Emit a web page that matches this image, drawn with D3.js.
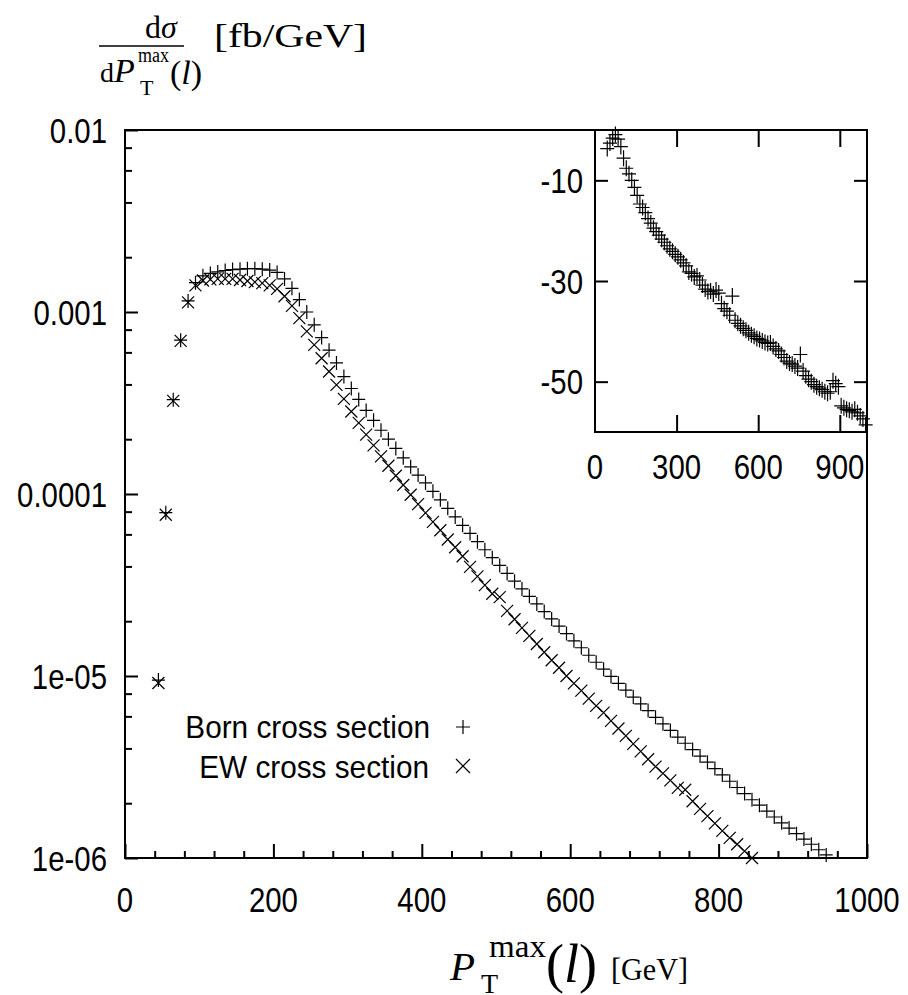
<!DOCTYPE html>
<html><head><meta charset="utf-8">
<script src="https://cdn.jsdelivr.net/npm/d3@7"></script>
<style>
body{margin:0;background:#fff;}
svg{display:block;}
</style></head>
<body>
<svg id="chart" width="908" height="995"></svg>
<script>
// ---------- DATA ----------
const ptBins = [45,55,65,75,85,95,105,115,125,135,145,155,165,175,185,195,205,215,225,235,
  245,255,265,275,285,295,305,315,325,335,345,355,365,375,385,395,405,415,425,435,
  445,455,465,475,485,495,505,515,525,535,545,555,565,575,585,595,605,615,625,635,
  645,655,665,675,685,695,705,715,725,735,745,755,765,775,785,795,805,815,825,835,
  845,855,865,875,885,895,905,915,925,935,945,955,965,975,985,995];

const bornXsec = [9.5e-6,7.9e-5,3.3e-4,7.0e-4,1.15e-3,1.45e-3,1.58e-3,1.63e-3,1.66e-3,1.69e-3,
  1.71e-3,1.72e-3,1.73e-3,1.73e-3,1.72e-3,1.70e-3,1.65e-3,1.52e-3,1.35e-3,1.17e-3,
  1.00e-3,8.50e-4,7.24e-4,6.17e-4,5.25e-4,4.42e-4,3.80e-4,3.31e-4,2.88e-4,2.54e-4,
  2.24e-4,2.00e-4,1.78e-4,1.58e-4,1.41e-4,1.27e-4,1.15e-4,1.035e-4,9.29e-5,8.34e-5,
  7.48e-5,6.73e-5,6.07e-5,5.47e-5,4.94e-5,4.47e-5,4.05e-5,3.66e-5,3.32e-5,3.01e-5,
  2.74e-5,2.49e-5,2.26e-5,2.06e-5,1.88e-5,1.71e-5,1.56e-5,1.43e-5,1.30e-5,1.19e-5,
  1.09e-5,9.95e-6,9.12e-6,8.36e-6,7.66e-6,7.03e-6,6.46e-6,5.93e-6,5.46e-6,5.02e-6,
  4.62e-6,4.27e-6,3.94e-6,3.63e-6,3.36e-6,3.10e-6,2.86e-6,2.64e-6,2.44e-6,2.26e-6,
  2.09e-6,1.95e-6,1.81e-6,1.68e-6,1.56e-6,1.46e-6,1.36e-6,1.27e-6,1.19e-6,1.11e-6,1.04e-6];

const ewXsec = [9.15e-6,7.69e-5,3.25e-4,6.94e-4,1.13e-3,1.40e-3,1.49e-3,1.51e-3,1.52e-3,1.52e-3,
  1.52e-3,1.50e-3,1.48e-3,1.46e-3,1.44e-3,1.40e-3,1.34e-3,1.22e-3,1.08e-3,9.25e-4,
  7.83e-4,6.60e-4,5.57e-4,4.71e-4,3.98e-4,3.33e-4,2.84e-4,2.46e-4,2.12e-4,1.85e-4,
  1.61e-4,1.43e-4,1.26e-4,1.12e-4,9.90e-5,8.79e-5,7.87e-5,7.03e-5,6.32e-5,5.62e-5,
  5.10e-5,4.55e-5,3.98e-5,3.53e-5,3.16e-5,2.83e-5,2.71e-5,2.28e-5,2.05e-5,1.84e-5,
  1.66e-5,1.50e-5,1.35e-5,1.22e-5,1.11e-5,1.00e-5,9.11e-6,8.31e-6,7.51e-6,6.85e-6,
  6.29e-6,5.67e-6,5.15e-6,4.69e-6,4.24e-6,3.85e-6,3.49e-6,3.18e-6,2.92e-6,2.67e-6,
  2.43e-6,2.37e-6,2.05e-6,1.86e-6,1.70e-6,1.55e-6,1.41e-6,1.29e-6,1.19e-6,1.09e-6,1.00e-6];

const relCorr = [-3.7,-2.6,-1.6,-0.9,-1.8,-3.3,-5.6,-7.6,-8.7,-10.0,-11.4,-13.0,-14.7,-15.4,-16.4,
  -17.6,-18.5,-19.5,-20.2,-20.9,-21.7,-22.3,-23.0,-23.6,-24.1,-24.7,-25.2,-25.8,-26.4,-27.0,
  -28.2,-28.5,-29.2,-29.0,-29.8,-30.8,-31.6,-32.1,-32.0,-32.6,-31.8,-32.4,-34.5,-35.5,-36.0,
  -36.8,-33.0,-37.8,-38.4,-38.9,-39.4,-39.8,-40.3,-40.7,-41.0,-41.4,-41.6,-41.9,-42.2,-42.4,
  -42.3,-43.0,-43.5,-43.9,-44.6,-45.2,-45.9,-46.3,-46.5,-46.9,-47.3,-44.6,-47.9,-48.8,-49.5,
  -50.0,-50.6,-51.0,-51.3,-51.6,-52.0,-52.3,-52.0,-49.8,-50.4,-51.0,-54.8,-55.2,-55.5,-55.7,
  -56.0,-55.5,-56.2,-56.8,-57.4,-58.6];

const xTickValues = [0,200,400,600,800,1000];
const yTickValues = [1e-6,1e-5,1e-4,1e-3,1e-2];
const yTickLabels = ["1e-06","1e-05","0.0001","0.001","0.01"];
const insetXTicks = [0,300,600,900];
const insetYTicks = [-10,-30,-50];
const legendLabels = ["Born cross section","EW cross section"];

// ---------- LAYOUT ----------
const svg = d3.select("#chart");
const M = {left:125, right:867, top:130, bottom:858};
const x = d3.scaleLinear().domain([0,1000]).range([M.left, M.right]);
const y = d3.scaleLog().domain([1e-6,1e-2]).range([M.bottom, M.top]);

const INS = {left:595, right:867, top:130, bottom:432};
const xi = d3.scaleLinear().domain([0,1000]).range([INS.left, INS.right]);
const yi = d3.scaleLinear().domain([-60,0]).range([INS.bottom, INS.top]);

const SANS = "'Liberation Sans', Arial, Helvetica, sans-serif";
const SERIF = "'Liberation Serif', 'Times New Roman', serif";
const plusPath = "M-6.5,0H6.5M0,-7V7";
const crossPath = "M-6,-6L6,6M-6,6L6,-6";

function sansText(g, px, py, s, size, anchor, sx) {
  return g.append("text")
    .attr("transform", `translate(${px},${py}) scale(${sx},1)`)
    .attr("text-anchor", anchor)
    .attr("font-family", SANS).attr("font-size", size)
    .attr("fill", "#000").text(s);
}
function serifText(px, py, s, size, len, italic, adj) {
  const t = svg.append("text").attr("x", px).attr("y", py)
    .attr("font-family", SERIF).attr("font-size", size).attr("fill", "#000")
    .attr("font-style", italic ? "italic" : "normal").text(s);
  if (len) t.attr("textLength", len).attr("lengthAdjust", adj || "spacingAndGlyphs");
  return t;
}
function parenL(px, py, size) {
  const t = svg.append("text").attr("x", px).attr("y", py)
    .attr("font-family", SERIF).attr("font-size", size).attr("fill", "#000");
  t.append("tspan").text("(");
  t.append("tspan").attr("font-style","italic").text("l");
  t.append("tspan").text(")");
  return t;
}

// ---------- MAIN AXES ----------
const xMajor = svg.append("g").attr("transform", `translate(0,${M.bottom})`)
  .call(d3.axisBottom(x).tickValues(xTickValues).tickSize(-14).tickFormat(""));
const xMinor = svg.append("g").attr("transform", `translate(0,${M.bottom})`)
  .call(d3.axisBottom(x).tickValues(d3.range(40,1000,40).filter(v => v % 200 !== 0)).tickSize(-7).tickFormat(""));
const yMajor = svg.append("g").attr("transform", `translate(${M.left},0)`)
  .call(d3.axisLeft(y).tickValues(yTickValues).tickSize(-13).tickFormat(""));
const yMinorVals = [];
[1e-6,1e-5,1e-4,1e-3].forEach(d => [2,4,6,8].forEach(m => yMinorVals.push(d*m)));
const yMinor = svg.append("g").attr("transform", `translate(${M.left},0)`)
  .call(d3.axisLeft(y).tickValues(yMinorVals).tickSize(-7).tickFormat(""));
[xMajor,xMinor,yMajor,yMinor].forEach(g => {
  g.select(".domain").remove();
  g.selectAll("line").attr("stroke","#000").attr("stroke-width",2);
});

// tick labels
const labG = svg.append("g");
xTickValues.forEach(v => sansText(labG, x(v), 912, String(v), 35, "middle", 0.84));
yTickValues.forEach((v,i) => sansText(labG, 107, y(v) + 12.5, yTickLabels[i], 35, "end", 0.84));

// frame
svg.append("rect").attr("x", M.left).attr("y", M.top)
  .attr("width", M.right - M.left).attr("height", M.bottom - M.top)
  .attr("fill","none").attr("stroke","#000").attr("stroke-width",2);

// ---------- MAIN DATA ----------
const bornPts = bornXsec.map((v,i) => [ptBins[i], v]);
const ewPts = ewXsec.map((v,i) => [ptBins[i], v]);
svg.append("g").selectAll("path").data(bornPts).join("path")
  .attr("transform", d => `translate(${x(d[0])},${y(d[1])})`)
  .attr("d", plusPath).attr("stroke","#000").attr("stroke-width",1.2).attr("fill","none");
svg.append("g").selectAll("path").data(ewPts).join("path")
  .attr("transform", d => `translate(${x(d[0])},${y(d[1])})`)
  .attr("d", crossPath).attr("stroke","#000").attr("stroke-width",1.2).attr("fill","none");

// ---------- LEGEND ----------
const legG = svg.append("g");
sansText(legG, 430, 738, legendLabels[0], 32, "end", 0.93);
sansText(legG, 429, 778, legendLabels[1], 32, "end", 0.93);
legG.append("path").attr("transform","translate(463,727)").attr("d","M-7,0H7M0,-7V7")
  .attr("stroke","#000").attr("stroke-width",1.2);
legG.append("path").attr("transform","translate(463,766)").attr("d","M-7,-7L7,7M-7,7L7,-7")
  .attr("stroke","#000").attr("stroke-width",1.2);

// ---------- INSET ----------
svg.append("rect").attr("x", INS.left).attr("y", INS.top)
  .attr("width", INS.right - INS.left).attr("height", INS.bottom - INS.top)
  .attr("fill","#fff");
const iB = svg.append("g").attr("transform", `translate(0,${INS.bottom})`)
  .call(d3.axisBottom(xi).tickValues(insetXTicks.slice(1)).tickSize(-17).tickFormat(""));
const iT = svg.append("g").attr("transform", `translate(0,${INS.top})`)
  .call(d3.axisTop(xi).tickValues(insetXTicks.slice(1)).tickSize(-17).tickFormat(""));
const iL = svg.append("g").attr("transform", `translate(${INS.left},0)`)
  .call(d3.axisLeft(yi).tickValues(insetYTicks).tickSize(-13).tickFormat(""));
const iR = svg.append("g").attr("transform", `translate(${INS.right},0)`)
  .call(d3.axisRight(yi).tickValues(insetYTicks).tickSize(-13).tickFormat(""));
[iB,iT,iL,iR].forEach(g => {
  g.select(".domain").remove();
  g.selectAll("line").attr("stroke","#000").attr("stroke-width",2);
});
insetXTicks.forEach(v => sansText(labG, xi(v), 479, String(v), 35, "middle", 0.84));
insetYTicks.forEach(v => sansText(labG, 583, yi(v) + 12.5, String(v), 35, "end", 0.84));
svg.append("rect").attr("x", INS.left).attr("y", INS.top)
  .attr("width", INS.right - INS.left).attr("height", INS.bottom - INS.top)
  .attr("fill","none").attr("stroke","#000").attr("stroke-width",2);
const corrPts = relCorr.map((v,i) => [ptBins[i], v]);
svg.append("g").selectAll("path").data(corrPts).join("path")
  .attr("transform", d => `translate(${xi(d[0])},${yi(d[1])})`)
  .attr("d", "M-7,0H7M0,-8V8").attr("stroke","#000").attr("stroke-width",1.2).attr("fill","none");

// ---------- AXIS TITLES (LaTeX-like) ----------
// y title: dσ / dP_T^max(l) [fb/GeV]
const num = svg.append("text").attr("x",145).attr("y",38)
  .attr("font-family",SERIF).attr("font-size",32).attr("fill","#000");
num.append("tspan").text("d");
num.append("tspan").attr("font-style","italic").text("σ");
svg.append("line").attr("x1",99).attr("x2",184).attr("y1",46).attr("y2",46)
  .attr("stroke","#000").attr("stroke-width",1.6);
serifText(100, 82, "d", 28, null, false);
serifText(114, 82, "P", 34, null, true);
serifText(138, 62, "max", 20, 31, false);
serifText(140, 95, "T", 22, null, false);
parenL(170, 84, 34);
serifText(214, 47, "[fb/GeV]", 33, 153, false);

// x title: P_T^max(l) [GeV]
serifText(450, 980, "P", 41, null, true);
serifText(489, 957, "max", 31, 57, false);
serifText(481, 993, "T", 28, null, false);
parenL(546, 982, 54);
serifText(611, 980, "[GeV]", 31, 77, false);
</script>
</body></html>
